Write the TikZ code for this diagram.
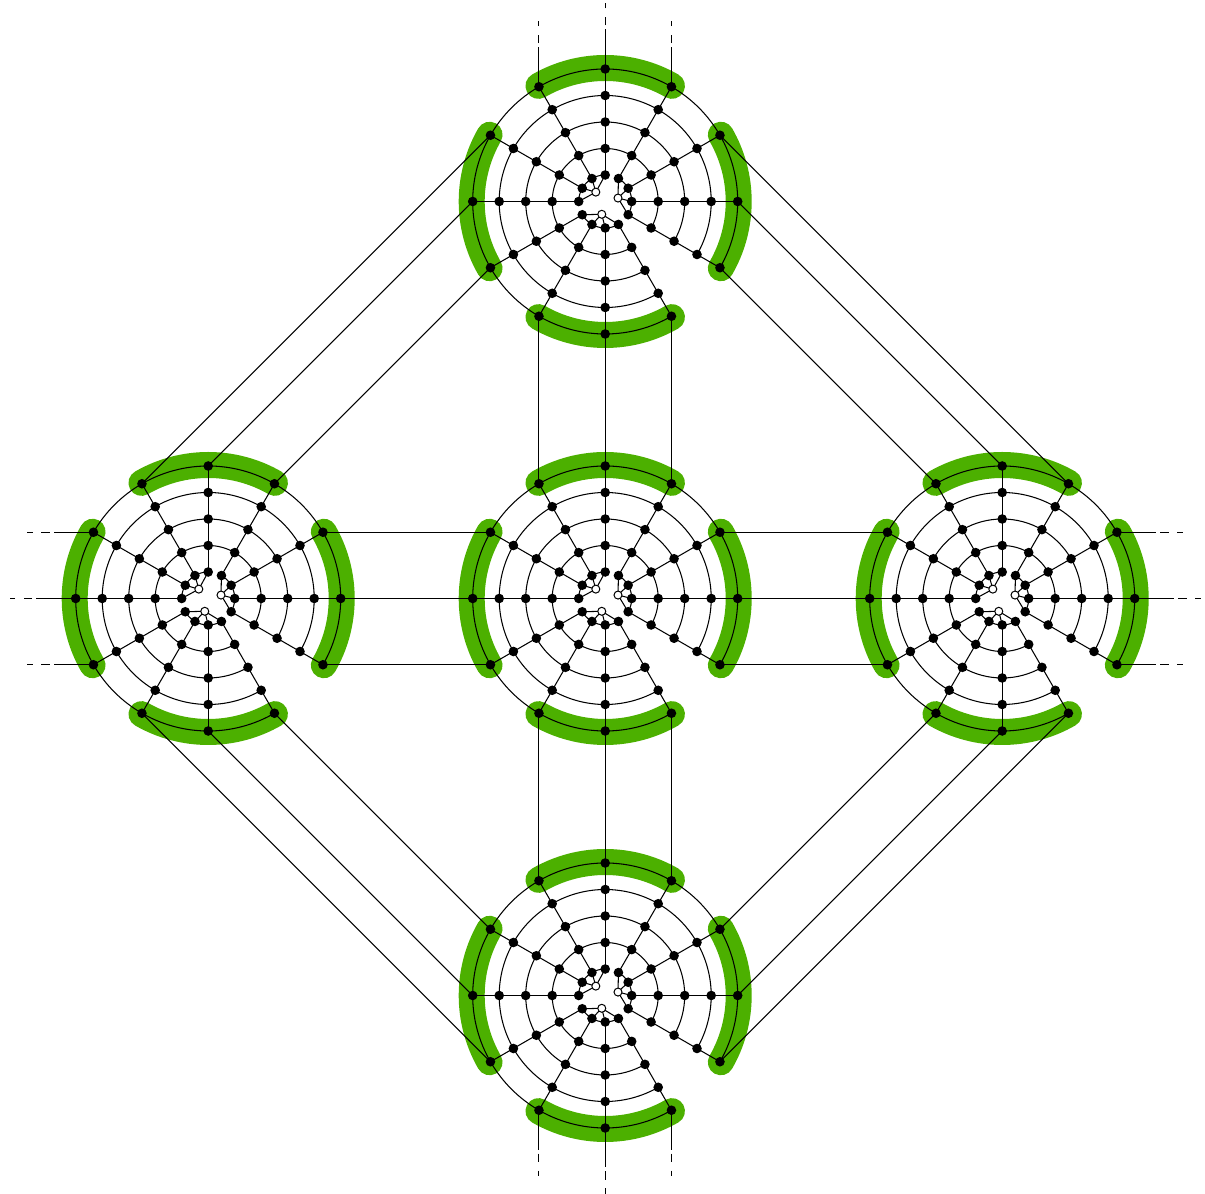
\documentclass[tikz,border=0pt]{standalone}
\usetikzlibrary{calc}
\pgfdeclarelayer{greenlayer}
\pgfdeclarelayer{edgelayer}
\pgfsetlayers{greenlayer,edgelayer,main}
\definecolor{ringgreen}{RGB}{76,176,0}
\tikzset{
  dot/.style={circle,fill=black,draw=none,minimum size=9.6pt,inner sep=0pt,outer sep=0pt},
  hub/.style={circle,fill=white,draw=black,line width=1pt,minimum size=8pt,inner sep=0pt,outer sep=0pt},
  wire/.style={line width=1.05pt,black},
  band/.style={line width=26pt,ringgreen,line cap=round},
  tail/.style={wire,dash pattern=on 39.5pt off 4pt on 8.5pt off 8.5pt on 5.5pt},
}
\newcommand{\ringstep}{26.5}
\begin{document}
\begin{tikzpicture}[x=1pt,y=1pt]
\useasboundingbox (0,0) rectangle (1205,1194);
\foreach \b/\cx/\cy in {T/605.2/992.5,C/605.2/595.5,B/605.2/198.5,L/208.2/595.5,R/1002.2/595.5}{
  \coordinate (\b-o) at (\cx,\cy);
  \foreach \r in {1,...,5}{
    \foreach \a in {0,30,...,330}{
      \node[dot] (\b-\r-\a) at ($(\cx,\cy)+(\a:{\r*\ringstep})$) {};
    }
  }
  \node[hub] (\b-h15) at ($(\cx,\cy)+(15:13.25)$) {};
  \node[hub] (\b-h135) at ($(\cx,\cy)+(135:13.25)$) {};
  \node[hub] (\b-h255) at ($(\cx,\cy)+(255:13.25)$) {};
  \begin{pgfonlayer}{greenlayer}
    \foreach \s in {60,150,240,330}{
      \draw[band] (\cx,\cy)++(\s:133.5) arc[start angle=\s,delta angle=60,radius=133.5];
    }
  \end{pgfonlayer}
  \begin{pgfonlayer}{edgelayer}
    \foreach \a in {0,30,...,330}{
      \draw[wire] (\b-1-\a.center) -- (\b-5-\a.center);
    }
    \foreach \r in {2,3,4,5}{
      \pgfmathsetmacro{\rad}{\r*\ringstep}
      \foreach \a in {0,30,60,90,120,150,180,210,240,270,330}{
        \draw[wire] (\b-\r-\a.center) arc[start angle=\a,delta angle=30,radius=\rad pt];
      }
    }
    \foreach \a in {330,0,30,90,120,150,210,240,270}{
      \draw[wire] (\b-1-\a.center) arc[start angle=\a,delta angle=30,radius=\ringstep pt];
    }
    \foreach \a in {90,120,150,180}{\draw[wire] (\b-h135.center) -- (\b-1-\a.center);}
    \foreach \a in {60,30,0,330}{\draw[wire] (\b-h15.center) -- (\b-1-\a.center);}
    \foreach \a in {210,240,270,300}{\draw[wire] (\b-h255.center) -- (\b-1-\a.center);}
  \end{pgfonlayer}
}
\begin{pgfonlayer}{edgelayer}
  \foreach \p/\q/\u/\v in {
    T/L/150/120,T/L/180/90,T/L/210/60,
    T/R/30/60,T/R/0/90,T/R/330/120,
    L/B/240/210,L/B/270/180,L/B/300/150,
    R/B/240/30,R/B/270/0,R/B/300/330,
    C/L/150/30,C/L/180/0,C/L/210/330,
    C/R/30/150,C/R/0/180,C/R/330/210,
    T/C/240/120,T/C/270/90,T/C/300/60,
    C/B/240/120,C/B/270/90,C/B/300/60}{
    \draw[wire] (\p-5-\u.center) -- (\q-5-\v.center);
  }
  \foreach \p/\u/\dx/\dy in {
    T/120/0/66,T/90/0/66,T/60/0/66,
    B/240/0/-66,B/270/0/-66,B/300/0/-66,
    L/150/-66/0,L/180/-66/0,L/210/-66/0,
    R/30/66/0,R/0/66/0,R/330/66/0}{
    \coordinate (\p-end-\u) at ($(\p-5-\u)+(\dx,\dy)$);
    \draw[tail] (\p-5-\u.center) -- (\p-end-\u);
  }
\end{pgfonlayer}
\end{tikzpicture}
\end{document}
